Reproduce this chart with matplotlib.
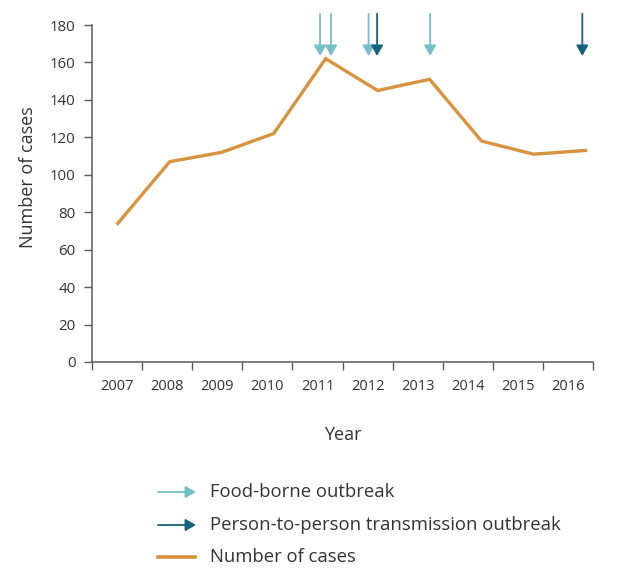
import matplotlib.pyplot as plt
from matplotlib.lines import Line2D
from matplotlib.patches import FancyArrowPatch

years = ['2007', '2008', '2009', '2010', '2011', '2012', '2013', '2014', '2015', '2016']
cases = [74, 107, 112, 122, 162, 145, 151, 118, 111, 113]

# outbreak dates (decimal years, start of year = tick)
food_borne = [2011.55, 2011.77, 2012.52, 2013.75]
person_to_person = [2012.69, 2016.79]

c_line = '#D8933F'
c_food = '#74BEC5'
c_p2p = '#176179'
c_text = '#333333'
c_axis = '#5a5a5a'

plt.rcParams['font.family'] = ['Open Sans', 'DejaVu Sans']

fig = plt.figure(figsize=(6.32, 5.79), dpi=100)
ax = fig.add_axes([0.146, 0.3748, 0.792, 0.582])

# category axis: ticks on the year boundaries, labels in between
ax.set_xlim(2007, 2017)
ax.set_ylim(0, 180)
ax.set_xticks(range(2007, 2018))
ax.set_xticklabels([])
ax.set_xticks([int(y) + 0.5 for y in years], minor=True)
ax.set_xticklabels(years, minor=True)
ax.tick_params(axis='x', which='minor', length=0, pad=12, labelsize=10.5, labelcolor=c_text)
ax.tick_params(axis='x', which='major', length=6, width=1, color=c_axis)
ax.set_yticks(range(0, 181, 20))
ax.tick_params(axis='y', length=6, width=1, color=c_axis, labelsize=10.8, labelcolor=c_text, pad=6)
for s in ['top', 'right']:
    ax.spines[s].set_visible(False)
for s in ['left', 'bottom']:
    ax.spines[s].set_color(c_axis)
    ax.spines[s].set_linewidth(1.1)
ax.set_xlabel('Year', fontsize=13, color=c_text, labelpad=23)
ax.set_ylabel('Number of cases', fontsize=13, color=c_text, labelpad=9, y=0.549)

# line of cases on its own hidden axis
ax2 = ax.twiny()
ax2.set_xlim(-0.49, 9.14)
ax2.set_ylim(0, 180)
ax2.axis('off')
ax2.plot(range(len(years)), cases, color=c_line, lw=2.4, solid_joinstyle='miter')

def arrow(x, col):
    ax.annotate('', xy=(x, 163.5), xytext=(x, 186), annotation_clip=False,
                arrowprops=dict(arrowstyle='-|>,head_length=0.63,head_width=0.36',
                                mutation_scale=10, color=col, lw=1.3,
                                shrinkA=0, shrinkB=0))

for x in food_borne:
    arrow(x, c_food)
for x in person_to_person:
    arrow(x, c_p2p)

# legend
W, H = 632, 579
rows = [(492, c_food, 'Food-borne outbreak', 'arrow'),
        (525, c_p2p, 'Person-to-person transmission outbreak', 'arrow'),
        (557, c_line, 'Number of cases', 'line')]
for y, col, label, kind in rows:
    yf = 1 - y / H
    if kind == 'arrow':
        fig.patches.append(FancyArrowPatch(
            (158 / W, yf), (196 / W, yf), transform=fig.transFigure,
            arrowstyle='-|>,head_length=0.63,head_width=0.36', mutation_scale=10,
            color=col, lw=1.3, shrinkA=0, shrinkB=0))
    else:
        fig.lines.append(Line2D([158 / W, 195 / W], [yf, yf], transform=fig.transFigure,
                                color=col, lw=2.6))
    fig.text(210 / W, yf, label, fontsize=13.3, color=c_text, va='center', ha='left')

fig.savefig('out.png', dpi=100)
